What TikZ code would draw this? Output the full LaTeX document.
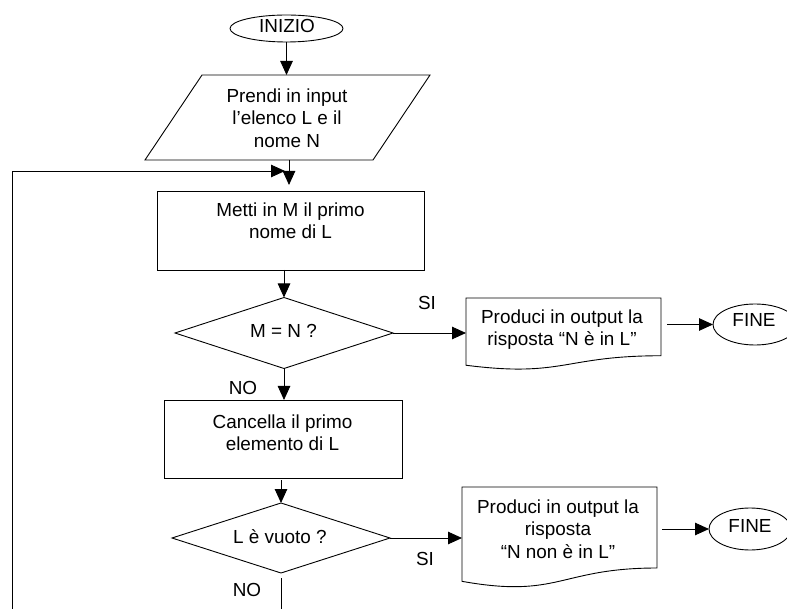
\documentclass[tikz,border=0pt]{standalone}
\usepackage{fontspec}
\setmainfont{Liberation Sans}
\usetikzlibrary{shapes.geometric,arrows.meta,calc}
\begin{document}
\begin{tikzpicture}[x=1pt,y=-1pt,
  outline/.style={draw=black,line width=0.9pt,inner sep=0pt,outer sep=0pt},
  lbl/.style={font=\fontsize{18.9}{22.5}\selectfont,inner sep=0pt,align=center},
  flow/.style={line width=0.9pt,-{Triangle[length=14pt,width=12.5pt]}},
  plain/.style={line width=0.9pt},
  frame/.style={inner sep=0pt,outer sep=0pt}]
\useasboundingbox (0,0) rectangle (787,609);

% flowchart blocks
\node[outline,ellipse,minimum width=113pt,minimum height=27pt] (inizio) at (286.5,28.5) {};
\node[frame,minimum width=285pt,minimum height=85pt] (input) at (287.5,117.5) {};
\node[outline,rectangle,minimum width=267pt,minimum height=79pt] (metti) at (290.5,230.5) {};
\node[outline,diamond,minimum width=218pt,minimum height=71pt] (test1) at (284,333) {};
\node[outline,rectangle,minimum width=238pt,minimum height=78pt] (cancella) at (283,439) {};
\node[outline,diamond,minimum width=218pt,minimum height=70pt] (test2) at (281,538) {};
\node[frame,minimum width=195pt,minimum height=72pt] (out1) at (563.5,334) {};
\node[frame,minimum width=195pt,minimum height=101pt] (out2) at (559.5,537.5) {};
\node[outline,ellipse,minimum width=84pt,minimum height=41pt] (fine1) at (755,324.5) {};
\node[outline,ellipse,minimum width=82pt,minimum height=42pt] (fine2) at (750,529) {};

% input block: parallelogram leaning right
\draw[plain] (input.south west) -- ([xshift=57pt]input.north west) -- (input.north east)
  -- ([xshift=-57pt]input.south east) -- cycle;

% output blocks with the wavy "document" bottom edge
\foreach \d in {out1,out2}
  \draw[plain] (\d.north west) -- (\d.north east)
    -- ($(\d.north east)!0.802!(\d.south east)$)
    .. controls ($(\d.north)!0.802!(\d.south)$) and ($(\d.north)!1.107!(\d.south)$)
    .. ($(\d.north west)!0.934!(\d.south west)$) -- cycle;

% texts
\node[lbl,anchor=base] (t-inizio) at (287,33) {INIZIO};
\node[lbl,anchor=north] (t-input) at (287,86.25) {\strut Prendi in input\\l’elenco L e il\\nome N};
\node[lbl,anchor=north] (t-metti) at (290.5,200.25) {\strut Metti in M il primo\\nome di L};
\node[lbl,anchor=base] (t-test1) at (283.5,338) {M = N ?};
\node[lbl,anchor=north] (t-cancella) at (282.5,412.25) {\strut Cancella il primo\\elemento di L};
\node[lbl,anchor=base] (t-test2) at (280,543) {L è vuoto ?};
\node[lbl,anchor=north] (t-out1) at (562,307.25) {\strut Produci in output la\\risposta “N è in L”};
\node[lbl,anchor=north] (t-out2) at (558,497.25) {\strut Produci in output la\\risposta\\“N non è in L”};
\node[lbl,anchor=base] (t-fine1) at (754,327) {FINE};
\node[lbl,anchor=base] (t-fine2) at (750,532) {FINE};
\node[lbl,anchor=base] (si1) at (427,310) {SI};
\node[lbl,anchor=base] (si2) at (425,565) {SI};
\node[lbl,anchor=base] (no1) at (243,395) {NO};
\node[lbl,anchor=base] (no2) at (247,596) {NO};

% connectors
\coordinate (loopfoot) at (12,609);
\coordinate (loopjoin) at (285,171);
\coordinate (exitfoot) at (281,609);

\draw[flow] (inizio.south) -- (inizio.south |- input.north);
\draw[flow,shorten >=6pt] ([xshift=1.5pt]input.south) -- ([xshift=1.5pt]input.south |- metti.north);
\draw[flow] (loopfoot) |- (loopjoin);
\draw[flow] (test1.north |- metti.south) -- (test1.north);
\draw[flow] (test1.east) -- (test1.east -| out1.west);
\draw[flow] ($(out1.east |- fine1.west)+(6,0)$) -- (fine1.west);
\draw[flow] (test1.south) -- (test1.south |- cancella.north);
\draw[flow] ($(test2.north |- cancella.south)+(0,2)$) -- (test2.north);
\draw[flow] (test2.east) -- (test2.east -| out2.west);
\draw[flow] ($(out2.east |- fine2.west)+(5,0)$) -- (fine2.west);
\draw[plain,shorten <=5pt] (test2.south) -- (exitfoot);
\end{tikzpicture}
\end{document}
